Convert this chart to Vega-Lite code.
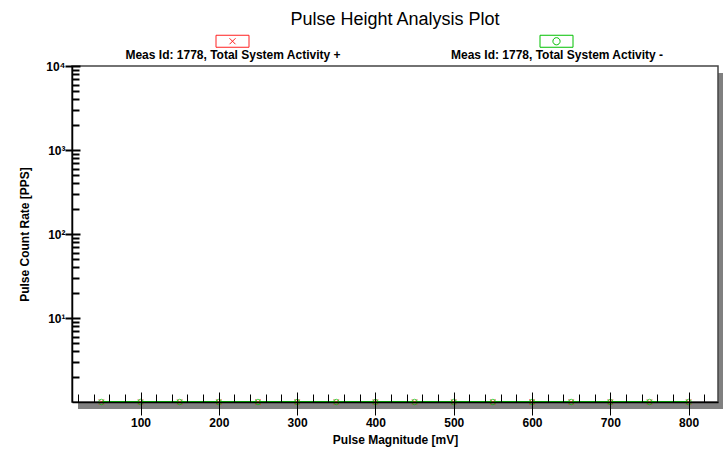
{
  "$schema": "https://vega.github.io/schema/vega-lite/v6.json",
  "width": 646,
  "height": 336,
  "autosize": {"type": "none"},
  "padding": {"left": 72, "top": 66, "right": 5, "bottom": 50},
  "background": "white",
  "title": {"text": "Pulse Height Analysis Plot", "fontSize": 18, "fontWeight": "normal", "font": "Liberation Sans", "color": "#000", "anchor": "middle", "offset": 0},
  "config": {
    "view": {"stroke": null},
    "axis": {"labelFont": "Liberation Sans", "labelFontWeight": "bold", "labelFontSize": 12, "labelColor": "#000", "titleFont": "Liberation Sans", "titleFontWeight": "bold", "titleFontSize": 12, "titleColor": "#000", "tickColor": "#000", "domainColor": "#000", "grid": false, "ticks": true, "tickWidth": 1, "tickOpacity": 1},
    "legend": {"labelFont": "Liberation Sans", "labelFontWeight": "bold", "labelFontSize": 12, "labelColor": "#000", "labelLimit": 400}
  },
  "datasets": {
    "plus": [
      {"x": 50, "y": 1}, {"x": 100, "y": 1}, {"x": 150, "y": 1}, {"x": 200, "y": 1},
      {"x": 250, "y": 1}, {"x": 300, "y": 1}, {"x": 350, "y": 1}, {"x": 400, "y": 1},
      {"x": 450, "y": 1}, {"x": 500, "y": 1}, {"x": 550, "y": 1}, {"x": 600, "y": 1},
      {"x": 650, "y": 1}, {"x": 700, "y": 1}, {"x": 750, "y": 1}, {"x": 800, "y": 1}
    ],
    "minus": [
      {"x": 50, "y": 1}, {"x": 100, "y": 1}, {"x": 150, "y": 1}, {"x": 200, "y": 1},
      {"x": 250, "y": 1}, {"x": 300, "y": 1}, {"x": 350, "y": 1}, {"x": 400, "y": 1},
      {"x": 450, "y": 1}, {"x": 500, "y": 1}, {"x": 550, "y": 1}, {"x": 600, "y": 1},
      {"x": 650, "y": 1}, {"x": 700, "y": 1}, {"x": 750, "y": 1}, {"x": 800, "y": 1}
    ],
    "legend": [
      {"series": "Meas Id: 1778, Total System Activity +"},
      {"series": "Meas Id: 1778, Total System Activity -"}
    ],
    "frame": [{"x0": 12.5, "x1": 837.5, "y0": 1, "y1": 10000}]
  },
  "resolve": {"axis": {"x": "independent", "y": "independent"}},
  "layer": [
    {
      "data": {"name": "frame"},
      "mark": {"type": "rect", "fill": "#808080", "xOffset": 6, "x2Offset": 6, "yOffset": 7, "y2Offset": 7},
      "encoding": {
        "x": {"field": "x0", "type": "quantitative", "scale": {"domain": [12.5, 837.5], "nice": false, "zero": false},
          "axis": {"orient": "bottom", "zindex": 2, "values": [100, 200, 300, 400, 500, 600, 700, 800], "offset": -10, "tickSize": 23, "domain": false, "labelPadding": 2, "title": "Pulse Magnitude [mV]", "titlePadding": 6}},
        "x2": {"field": "x1"},
        "y": {"field": "y0", "type": "quantitative", "scale": {"type": "log", "domain": [1, 10000], "nice": false},
          "axis": {"orient": "left", "zindex": 2, "values": [10, 100, 1000, 10000], "offset": -8, "tickSize": 15, "tickColor": "#000", "tickWidth": 2, "domain": false, "labelPadding": 0, "labelExpr": "datum.value == 10 ? '10¹' : datum.value == 100 ? '10²' : datum.value == 1000 ? '10³' : '10⁴'", "title": "Pulse Count Rate [PPS]", "titlePadding": 14}},
        "y2": {"field": "y1"}
      }
    },
    {
      "data": {"name": "frame"},
      "mark": {"type": "rect", "fill": "white", "stroke": "#444", "strokeWidth": 1.5},
      "encoding": {
        "x": {"field": "x0", "type": "quantitative", "scale": {"domain": [12.5, 837.5], "nice": false, "zero": false},
          "axis": {"orient": "bottom", "zindex": 2, "values": [20, 40, 60, 80, 120, 140, 160, 180, 220, 240, 260, 280, 320, 340, 360, 380, 420, 440, 460, 480, 520, 540, 560, 580, 620, 640, 660, 680, 720, 740, 760, 780, 820], "tickSize": -8, "domain": true, "domainWidth": 1.5, "labels": false, "title": null}},
        "x2": {"field": "x1"},
        "y": {"field": "y0", "type": "quantitative", "scale": {"type": "log", "domain": [1, 10000], "nice": false},
          "axis": {"orient": "left", "zindex": 2, "values": [2, 3, 4, 5, 6, 7, 8, 9, 20, 30, 40, 50, 60, 70, 80, 90, 200, 300, 400, 500, 600, 700, 800, 900, 2000, 3000, 4000, 5000, 6000, 7000, 8000, 9000], "tickSize": -7, "tickColor": "#000", "tickWidth": 2, "domain": true, "domainWidth": 1.5, "labels": false, "title": null}},
        "y2": {"field": "y1"}
      }
    },
    {
      "data": {"name": "plus"},
      "mark": {"type": "line", "color": "#ff0000", "strokeWidth": 2},
      "encoding": {
        "x": {"field": "x", "type": "quantitative", "axis": null},
        "y": {"field": "y", "type": "quantitative", "axis": null}
      }
    },
    {
      "data": {"name": "minus"},
      "mark": {"type": "line", "color": "#00c000", "strokeWidth": 2},
      "encoding": {
        "x": {"field": "x", "type": "quantitative", "axis": null},
        "y": {"field": "y", "type": "quantitative", "axis": null}
      }
    },
    {
      "data": {"name": "plus"},
      "mark": {"type": "point", "shape": "M-1,-1L1,1M-1,1L1,-1", "color": "#ff2020", "size": 30, "filled": false, "strokeWidth": 1},
      "encoding": {
        "x": {"field": "x", "type": "quantitative", "axis": null},
        "y": {"field": "y", "type": "quantitative", "axis": null}
      }
    },
    {
      "data": {"name": "minus"},
      "mark": {"type": "point", "shape": "circle", "color": "#00c000", "size": 30, "filled": false, "strokeWidth": 1},
      "encoding": {
        "x": {"field": "x", "type": "quantitative", "axis": null},
        "y": {"field": "y", "type": "quantitative", "axis": null}
      }
    },
    {
      "data": {"name": "legend"},
      "mark": {"type": "point", "opacity": 0, "filled": false, "strokeWidth": 1},
      "encoding": {
        "x": {"datum": 400, "type": "quantitative", "axis": null},
        "y": {"datum": 100, "type": "quantitative", "axis": null},
        "shape": {"field": "series", "type": "nominal",
          "scale": {"domain": ["Meas Id: 1778, Total System Activity +", "Meas Id: 1778, Total System Activity -"], "range": ["M-1.375,-0.5H1.375V0.5H-1.375Z M-0.25,-0.25L0.25,0.25 M-0.25,0.25L0.25,-0.25", "M-1.375,-0.5H1.375V0.5H-1.375Z M0.3,0A0.3,0.3 0 1,1 -0.3,0A0.3,0.3 0 1,1 0.3,0Z"]},
          "legend": {"title": null, "orient": "none", "legendX": 148, "legendY": -37.5, "direction": "horizontal", "columns": 2, "columnPadding": 109, "symbolSize": 576, "symbolOpacity": 1, "symbolStrokeWidth": 1, "labelAlign": "center", "labelBaseline": "middle", "labelOffset": -12, "labelExpr": "['', '', datum.label]"}},
        "color": {"field": "series", "type": "nominal",
          "scale": {"domain": ["Meas Id: 1778, Total System Activity +", "Meas Id: 1778, Total System Activity -"], "range": ["#ff2020", "#00c000"]},
          "legend": {"title": null, "orient": "none", "legendX": 148, "legendY": -37.5, "direction": "horizontal", "columns": 2, "columnPadding": 109, "symbolSize": 576, "symbolOpacity": 1, "symbolStrokeWidth": 1, "labelAlign": "center", "labelBaseline": "middle", "labelOffset": -12, "labelExpr": "['', '', datum.label]"}}
      }
    }
  ]
}
